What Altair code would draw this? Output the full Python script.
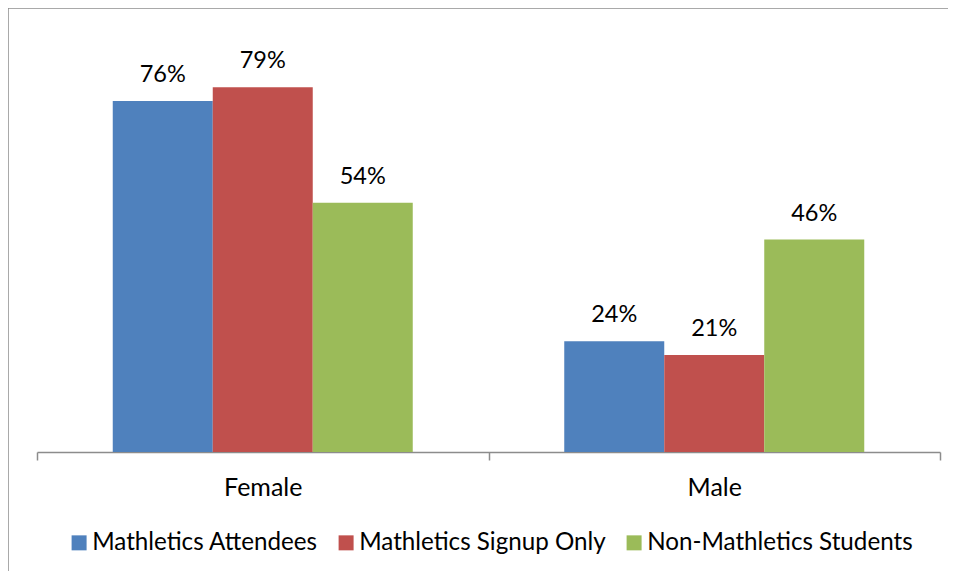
import altair as alt
import pandas as pd

genders = ["Female", "Male"]
groups = ["Mathletics Attendees", "Mathletics Signup Only", "Non-Mathletics Students"]
attendees = [0.76, 0.24]
signup_only = [0.79, 0.21]
non_mathletics = [0.54, 0.46]
colors = ["#4F81BD", "#C0504D", "#9BBB59"]

rows = []
for series_name, vals in zip(groups, [attendees, signup_only, non_mathletics]):
    for g, v in zip(genders, vals):
        rows.append({"gender": g, "group": series_name, "value": v})
df = pd.DataFrame(rows)

FONT = "Lato"
FS = 23.5
FS_AX = 25
FS_LEG = 24.2

x_enc = alt.X(
    "gender:N", sort=genders,
    scale=alt.Scale(paddingInner=0, paddingOuter=0),
    axis=alt.Axis(
        title=None, labelAngle=0, tickBand="extent", tickSize=8,
        domainColor="#8c8c8c", tickColor="#8c8c8c", domainWidth=1.5, tickWidth=1.5,
        labelFont=FONT, labelFontSize=FS_AX, labelColor="black",
        labelBaseline="alphabetic", labelPadding=35, grid=False,
    ),
)
xoff_enc = alt.XOffset("group:N", sort=groups,
                       scale=alt.Scale(paddingInner=0, paddingOuter=0.7575))
y_enc = alt.Y("value:Q", scale=alt.Scale(domain=[0, 0.9]), axis=None)

base = alt.Chart(df)

bars = base.mark_bar().encode(
    x=x_enc,
    xOffset=xoff_enc,
    y=y_enc,
    color=alt.Color(
        "group:N", sort=groups,
        scale=alt.Scale(domain=groups, range=colors),
        legend=alt.Legend(
            title=None, orient="none", direction="horizontal",
            legendX=30, legendY=494,
            symbolType="square", symbolSize=225, symbolStrokeWidth=0,
            labelFont=FONT, labelFontSize=FS_LEG, labelColor="black",
            labelLimit=0,
            columnPadding=16, labelOffset=1, padding=0,
        ),
    ),
)

labels = base.mark_text(
    dy=-19, baseline="alphabetic", font=FONT, fontSize=FS, color="black"
).encode(
    x=x_enc,
    xOffset=xoff_enc,
    y=y_enc,
    text=alt.Text("value:Q", format=".0%"),
)

frame_src = alt.Chart(pd.DataFrame({"a": [0]}))
frame_left = frame_src.mark_rule(color="#8c8c8c", strokeWidth=1.5).encode(
    x=alt.value(-29), y=alt.value(-28.4), y2=alt.value(700),
)
frame_top = frame_src.mark_rule(color="#8c8c8c", strokeWidth=1.5).encode(
    x=alt.value(-29.75), x2=alt.value(1000), y=alt.value(-28.4),
)

chart = alt.layer(frame_left, frame_top, bars, labels).properties(
    width=903, height=415.6,
    autosize=alt.AutoSizeParams(type="none"),
    padding={"left": 29, "top": 28.4, "right": 8, "bottom": 119},
    background="white",
).configure_view(stroke=None)

chart.save("out.html", embed_options={"renderer": "svg", "actions": False})
